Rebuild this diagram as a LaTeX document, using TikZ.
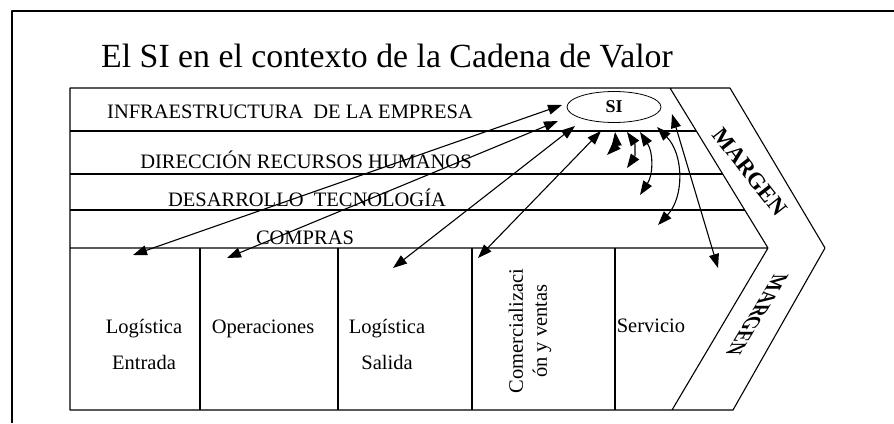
\documentclass[tikz,border=0pt]{standalone}
\usepackage{fontspec}
\setmainfont{Liberation Serif}
\usetikzlibrary{arrows.meta,shapes.geometric}
\begin{document}
\begin{tikzpicture}[x=1pt,y=-1pt,>={Triangle[length=14pt,width=10pt]},line join=round,line width=1.1pt,
	lab/.style={inner sep=0pt,font=\fontsize{20.5}{36}\selectfont},
	marg/.style={inner sep=0pt,font=\fontsize{23}{24}\selectfont\bfseries}]
	\useasboundingbox (0,0) rectangle (894,423);
	% marco y titulo
	\draw[line width=2.5pt] (12,423) -- (12,11) -- (894,11);
	\node[anchor=base,inner sep=0pt,font=\fontsize{33.8}{40}\selectfont] (titulo) at (387,67) {El SI en el contexto de la Cadena de Valor};
	% cadena de valor
	\path
	(70,88) coordinate (a1)
	(730,88) coordinate (a2)
	(825,248) coordinate (a3)
	(733,410) coordinate (a4)
	(70,410) coordinate (a5)
	(670,88) coordinate (b1)
	(768,248) coordinate (b2)
	(672,410) coordinate (b3)
	;
	\draw (a1)--(a2)--(a3)--(a4)--(a5)--cycle
	(b1)--(b2)--(b3) (70,248)--(b2)
	;
	\foreach \y in {131,174,210} \draw (70,\y) -- ({670+98*(\y-88)/160},\y);
	\foreach \x in {200,338,472,615} \draw (\x,248) -- (\x,410);
	% textos
	\node[lab,anchor=base] (infra) at (290,118) {INFRAESTRUCTURA\ \ DE LA EMPRESA};
	\node[lab,anchor=base] (rrhh) at (306,168) {DIRECCIÓN RECURSOS HUMANOS};
	\node[lab,anchor=base] (tecno) at (307,206) {DESARROLLO\ \ TECNOLOGÍA};
	\node[lab,anchor=base] (compras) at (305,244) {COMPRAS};
	\node[lab,align=center] (logent) at (144,344) {Logística\\Entrada};
	\node[lab,anchor=base] (oper) at (263,333) {Operaciones};
	\node[lab,align=center] (logsal) at (387,344) {Logística\\Salida};
	\node[lab,align=center,rotate=90,font=\fontsize{20.5}{24}\selectfont] (comer) at (530,331) {Comercializaci\\ón y ventas};
	\node[lab,anchor=base] (serv) at (651,332) {Servicio};
	\node[marg,rotate=-52] (marg1) at (750,172) {MARGEN};
	\node[marg,cm={-0.47,-0.77,1,0,(0,0)}] (marg2) at (757,315) {MARGEN};
	\node[draw,ellipse,line width=0.8pt,minimum width=94pt,minimum height=31pt,inner sep=0pt,font=\fontsize{18}{20}\selectfont\bfseries] (si) at (614,107) {SI};
	% flechas
	\path
	(133,255) coordinate (pA) (562,105) coordinate (sA)
	(227,258) coordinate (pB) (558,121) coordinate (sB)
	(393,268) coordinate (pC) (575,126) coordinate (sC)
	(478,258) coordinate (pD) (601,131) coordinate (sD)
	(607,155) coordinate (pE) (615,132) coordinate (sE)
	(627,168) coordinate (pF) (627,132) coordinate (sF)
	(640,195) coordinate (pG) (640,132) coordinate (sG)
	(658,225) coordinate (pH) (657,127) coordinate (sH)
	(718,268) coordinate (pI) (672,114) coordinate (sI)
	;
	\foreach \p in {A,B,C,D,I} \draw[<->] (p\p) -- (s\p);
	\foreach \p/\b in {E/26,F/35,G/33,H/44} \draw[<->] (s\p) to[bend left=\b] (p\p);
\end{tikzpicture}
\end{document}
